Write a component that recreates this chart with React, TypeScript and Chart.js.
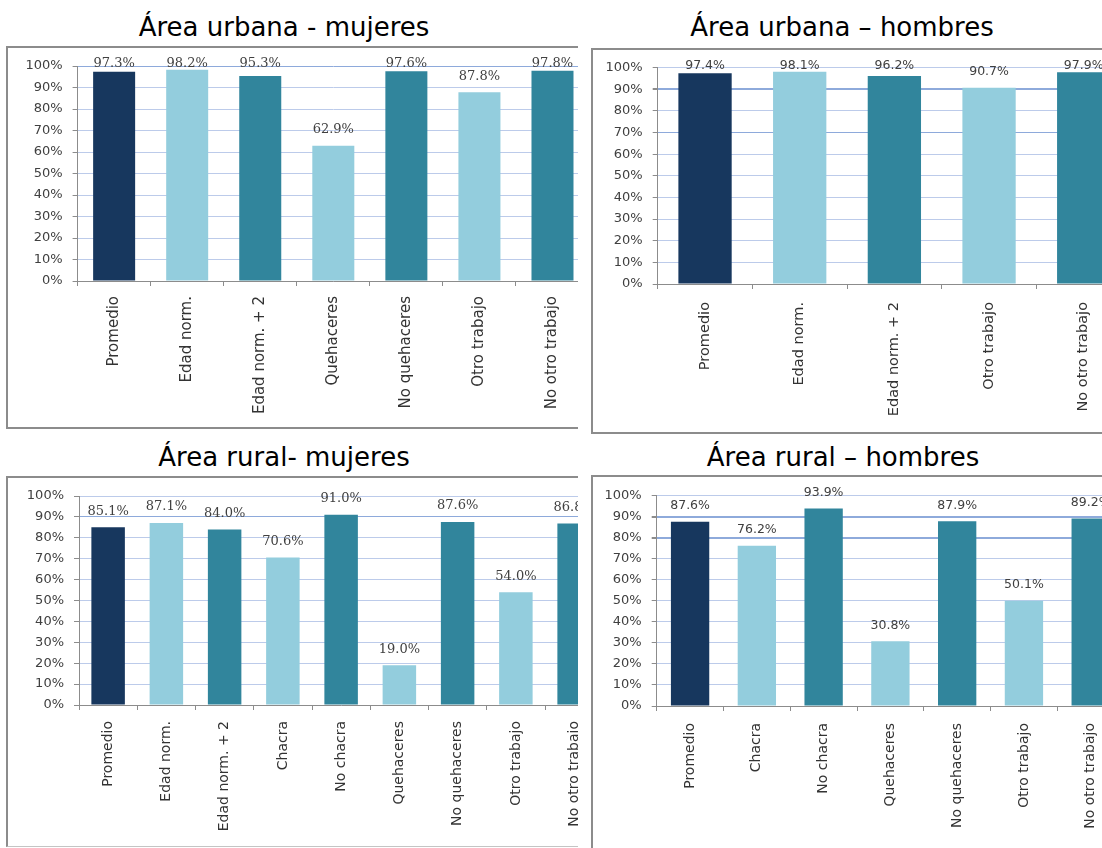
import React, { useEffect, useRef } from "react";
import { Chart, registerables } from "chart.js";

Chart.register(...registerables);

// ---------- DATA ----------
const urbanWomenLabels = ["Promedio", "Edad norm.", "Edad norm. + 2", "Quehaceres", "No quehaceres", "Otro trabajo", "No otro trabajo"];
const urbanWomenValues = [97.3, 98.2, 95.3, 62.9, 97.6, 87.8, 97.8];

const urbanMenLabels = ["Promedio", "Edad norm.", "Edad norm. + 2", "Otro trabajo", "No otro trabajo"];
const urbanMenValues = [97.4, 98.1, 96.2, 90.7, 97.9];

const ruralWomenLabels = ["Promedio", "Edad norm.", "Edad norm. + 2", "Chacra", "No chacra", "Quehaceres", "No quehaceres", "Otro trabajo", "No otro trabajo"];
const ruralWomenValues = [85.1, 87.1, 84.0, 70.6, 91.0, 19.0, 87.6, 54.0, 86.8];

const ruralMenLabels = ["Promedio", "Chacra", "No chacra", "Quehaceres", "No quehaceres", "Otro trabajo", "No otro trabajo"];
const ruralMenValues = [87.6, 76.2, 93.9, 30.8, 87.9, 50.1, 89.2];

const yTickValues = [0, 10, 20, 30, 40, 50, 60, 70, 80, 90, 100];

// ---------- STYLE ----------
const NAVY = "#17375E";
const LIGHT = "#93CDDD";
const TEAL = "#31859C";
const GRID = "#bccbea";
const GRID_DARK = "#8eaadb";
const AXIS = "#8c8c8c";
const BOX = "#8c8c8c";

const barColors = (n: number) =>
  Array.from({ length: n }, (_, i) => (i === 0 ? NAVY : i % 2 === 1 ? LIGHT : TEAL));

const valueLabels = {
  id: "valueLabels",
  afterDatasetsDraw(chart: any, _args: any, opts: any) {
    const { ctx } = chart;
    const meta = chart.getDatasetMeta(0);
    const data = chart.data.datasets[0].data;
    ctx.save();
    ctx.font = opts.font;
    ctx.fillStyle = opts.color;
    ctx.textAlign = "center";
    ctx.textBaseline = "alphabetic";
    meta.data.forEach((bar: any, i: number) => {
      let yb = bar.y - opts.gap;
      if (opts.clamp) yb = Math.max(yb, chart.chartArea.top + 1);
      ctx.fillText(Number(data[i]).toFixed(1) + "%", bar.x, yb);
    });
    ctx.restore();
  },
};

type PanelCfg = {
  title: string;
  labels: string[];
  values: number[];
  plotLeft: number;
  plotTop: number;
  plotBottom: number;
  band: number;
  barPct: number;
  clip: { left: number; top: number; width: number; height: number };
  box: { left: number; top: number; bottom: number; bottomStyle: string };
  titleBox: { left: number; width: number; top: number };
  xFont: number;
  xPad: number;
  labelFont: string;
  clamp: boolean;
  darkLines: number[];
  thickLines: number[];
};

const panels: PanelCfg[] = [
  {
    title: "Área urbana - mujeres",
    labels: urbanWomenLabels,
    values: urbanWomenValues,
    plotLeft: 77.6,
    plotTop: 66,
    plotBottom: 281,
    band: 73.06,
    barPct: 0.575,
    clip: { left: 0, top: 0, width: 578, height: 440 },
    box: { left: 6, top: 46, bottom: 429, bottomStyle: `2px solid ${BOX}` },
    titleBox: { left: 0, width: 568, top: 14 },
    xFont: 15,
    xPad: 10,
    labelFont: "13px 'DejaVu Serif'",
    clamp: true,
    darkLines: [100],
    thickLines: [],
  },
  {
    title: "Área urbana – hombres",
    labels: urbanMenLabels,
    values: urbanMenValues,
    plotLeft: 657.7,
    plotTop: 67.7,
    plotBottom: 284,
    band: 94.67,
    barPct: 0.563,
    clip: { left: 584, top: 0, width: 518, height: 440 },
    box: { left: 591, top: 48, bottom: 434, bottomStyle: `2px solid ${BOX}` },
    titleBox: { left: 592, width: 500, top: 14 },
    xFont: 14.5,
    xPad: 13,
    labelFont: "12.5px 'DejaVu Sans'",
    clamp: true,
    darkLines: [90, 70],
    thickLines: [90],
  },
  {
    title: "Área rural- mujeres",
    labels: ruralWomenLabels,
    values: ruralWomenValues,
    plotLeft: 79,
    plotTop: 496,
    plotBottom: 705,
    band: 58.25,
    barPct: 0.575,
    clip: { left: 0, top: 440, width: 578, height: 408 },
    box: { left: 6, top: 476, bottom: 847, bottomStyle: "1px solid #c4c4c4" },
    titleBox: { left: 0, width: 568, top: 444 },
    xFont: 14,
    xPad: 11,
    labelFont: "13px 'DejaVu Serif'",
    clamp: false,
    darkLines: [90],
    thickLines: [],
  },
  {
    title: "Área rural – hombres",
    labels: ruralMenLabels,
    values: ruralMenValues,
    plotLeft: 656.7,
    plotTop: 495.7,
    plotBottom: 706,
    band: 66.77,
    barPct: 0.574,
    clip: { left: 584, top: 440, width: 518, height: 408 },
    box: { left: 591, top: 475, bottom: 960, bottomStyle: `2px solid ${BOX}` },
    titleBox: { left: 593, width: 500, top: 444 },
    xFont: 14,
    xPad: 12,
    labelFont: "12.5px 'DejaVu Sans'",
    clamp: false,
    darkLines: [90, 80],
    thickLines: [90, 80],
  },
];

const Y_W = 72;
const PAD_T = 22;
const X_H = 150;

function Panel({ cfg }: { cfg: PanelCfg }) {
  const ref = useRef<HTMLCanvasElement | null>(null);
  const n = cfg.labels.length;
  const canvasLeft = Math.floor(cfg.plotLeft - Y_W);
  const canvasTop = Math.floor(cfg.plotTop - PAD_T);
  const yW = cfg.plotLeft - canvasLeft;
  const padT = cfg.plotTop - canvasTop;
  const plotH = cfg.plotBottom - cfg.plotTop;
  const width = Math.ceil(yW + cfg.band * n + 4);
  const padR = width - yW - cfg.band * n;
  const height = Math.ceil(padT + plotH + X_H);
  const xH = height - padT - plotH;

  useEffect(() => {
    if (!ref.current) return;
    const chart = new Chart(ref.current, {
      type: "bar",
      data: {
        labels: cfg.labels,
        datasets: [
          {
            data: cfg.values,
            backgroundColor: barColors(n),
            borderWidth: 0,
            barPercentage: cfg.barPct,
            categoryPercentage: 1,
          },
        ],
      },
      options: {
        responsive: false,
        animation: false,
        devicePixelRatio: 1,
        layout: { padding: { top: padT, right: padR, left: 0, bottom: 0 } },
        plugins: {
          legend: { display: false },
          tooltip: { enabled: false },
          title: { display: false },
          valueLabels: { font: cfg.labelFont, color: "#404040", gap: 12.5, clamp: cfg.clamp },
        } as any,
        scales: {
          x: {
            type: "category",
            afterFit: (s: any) => {
              s.height = xH;
            },
            grid: {
              drawOnChartArea: false,
              drawTicks: true,
              tickLength: 5,
              tickColor: AXIS,
              offset: true,
            },
            border: { display: true, color: AXIS, width: 1 },
            ticks: {
              autoSkip: false,
              maxRotation: 90,
              minRotation: 90,
              padding: cfg.xPad,
              color: "#333333",
              font: { family: "'DejaVu Sans'", size: cfg.xFont },
            },
          },
          y: {
            min: 0,
            max: 100,
            afterFit: (s: any) => {
              s.width = yW;
            },
            afterBuildTicks: (s: any) => {
              s.ticks = yTickValues.map((v) => ({ value: v }));
            },
            grid: {
              drawTicks: true,
              tickLength: 5,
              tickColor: AXIS,
              color: (c: any) =>
                c.tick && cfg.darkLines.includes(c.tick.value) ? GRID_DARK : GRID,
              lineWidth: (c: any) =>
                c.tick && cfg.thickLines.includes(c.tick.value) ? 2 : 1,
            },
            border: { display: true, color: AXIS, width: 1 },
            ticks: {
              padding: 10,
              color: "#404040",
              font: { family: "'DejaVu Sans'", size: 13 },
              callback: (v: any) => v + "%",
            },
          },
        },
      },
      plugins: [valueLabels],
    });
    return () => chart.destroy();
  }, []);

  return (
    <>
      <div
        style={{
          position: "absolute",
          left: cfg.titleBox.left,
          top: cfg.titleBox.top,
          width: cfg.titleBox.width,
          textAlign: "center",
          fontFamily: "'DejaVu Sans'",
          fontSize: 26,
          lineHeight: "26px",
          color: "#000",
          whiteSpace: "nowrap",
        }}
      >
        {cfg.title}
      </div>
      <div
        style={{
          position: "absolute",
          left: cfg.clip.left,
          top: cfg.clip.top,
          width: cfg.clip.width,
          height: cfg.clip.height,
          overflow: "hidden",
        }}
      >
        <div
          style={{
            position: "absolute",
            boxSizing: "border-box",
            left: cfg.box.left - cfg.clip.left,
            top: cfg.box.top - cfg.clip.top,
            width: 1200,
            height: cfg.box.bottom - cfg.box.top,
            borderTop: `2px solid ${BOX}`,
            borderLeft: `2px solid ${BOX}`,
            borderBottom: cfg.box.bottomStyle,
          }}
        />
        <canvas
          ref={ref}
          width={width}
          height={height}
          style={{
            position: "absolute",
            left: canvasLeft - cfg.clip.left,
            top: canvasTop - cfg.clip.top,
            width,
            height,
          }}
        />
      </div>
    </>
  );
}

export default function App() {
  return (
    <div
      style={{
        position: "absolute",
        left: 0,
        top: 0,
        width: 1102,
        height: 848,
        overflow: "hidden",
        background: "#fff",
      }}
    >
      {panels.map((p, i) => (
        <Panel key={i} cfg={p} />
      ))}
    </div>
  );
}
